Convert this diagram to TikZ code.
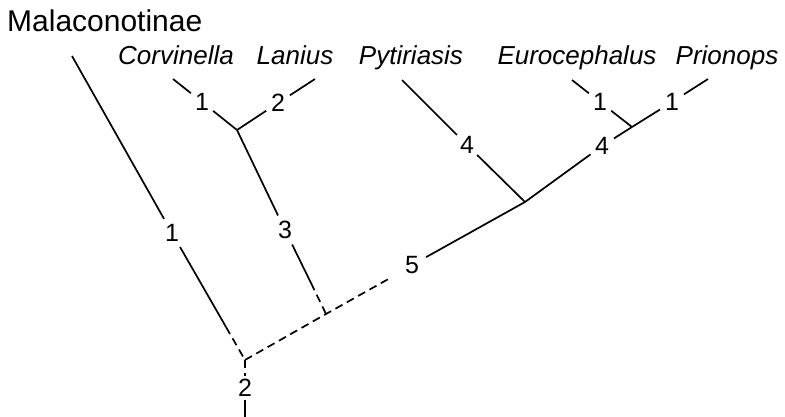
\documentclass[tikz,border=0pt]{standalone}
\usepackage{fontspec}
\setmainfont{Liberation Sans}
\begin{document}
\begin{tikzpicture}[x=1pt,y=-1pt,
  br/.style={line width=1.7pt,black},
  dsh/.style={line width=1.7pt,black,dash pattern=on 8pt off 5pt},
  taxon/.style={anchor=base,inner sep=0pt,font=\fontsize{26}{30}\selectfont\itshape},
  lbl/.style={circle,inner sep=0pt,minimum size=28pt,font=\fontsize{25}{29}\selectfont},
  lblb/.style={circle,inner sep=0pt,minimum size=32pt,font=\fontsize{25}{29}\selectfont}]
\useasboundingbox (0,0) rectangle (785,417);
% taxa
\node[anchor=base west,inner sep=0pt,font=\fontsize{30}{34}\selectfont] (mal) at (7,32) {Malaconotinae};
\node[taxon] (cor) at (176,65) {Corvinella};
\node[taxon] (lan) at (295,65) {Lanius};
\node[taxon] (pyt) at (411,65) {Pytiriasis};
\node[taxon] (eur) at (577,65) {Eurocephalus};
\node[taxon] (pri) at (727,65) {Prionops};
% tips
\coordinate (tmal) at (72,56);
\coordinate (tcor) at (173,79);
\coordinate (tlan) at (315,79);
\coordinate (tpyt) at (402,80);
\coordinate (teur) at (572,80);
\coordinate (tpri) at (708,79);
% internal nodes
\coordinate (R) at (245,360);
\coordinate (A) at (326,314);
\coordinate (CL) at (237,130);
\coordinate (P) at (525,202);
\coordinate (EP) at (632,127);
\coordinate (mdash) at (226,327);
\coordinate (ldash) at (311,283);
\coordinate (d5) at (392,277);
\coordinate (bot) at (245,417);
% branch labels
\node[lblb] (l1m) at (172,233) {1};
\node[lbl] (l1c) at (202,102) {1};
\node[lbl] (l2l) at (278,103) {2};
\node[lblb] (l3) at (285,230) {3};
\node[lbl] (l4p) at (467,145) {4};
\node[lbl] (l4e) at (602,146) {4};
\node[lbl] (l1e) at (600,102) {1};
\node[lbl] (l1p) at (672,102) {1};
\node[lblb] (l5) at (412,265) {5};
\node[lbl,minimum size=24pt] (l2r) at (245,388) {2};
% branches
\draw[br] (tmal) -- (l1m) -- (mdash);
\draw[dsh] (mdash) -- (R);
\draw[br] (tcor) -- (l1c) -- (CL);
\draw[br] (tlan) -- (l2l) -- (CL);
\draw[br] (CL) -- (l3) -- (ldash);
\draw[dsh] (ldash) -- (A);
\draw[dsh] (R) -- (A) -- (d5);
\draw[br] (l5) -- (P);
\draw[br] (tpyt) -- (l4p) -- (P);
\draw[br] (P) -- (l4e) -- (EP);
\draw[br] (teur) -- (l1e) -- (EP);
\draw[br] (tpri) -- (l1p) -- (EP);
\draw[dsh] (R) -- (l2r);
\draw[br] (l2r) -- (bot);
\end{tikzpicture}
\end{document}
